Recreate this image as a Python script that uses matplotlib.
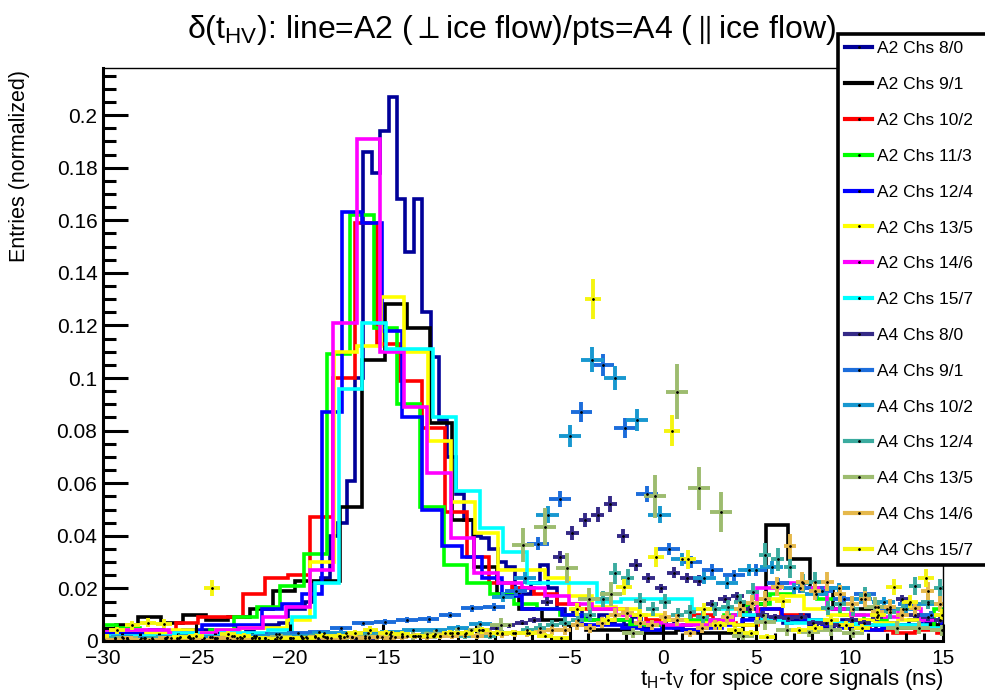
import numpy as np
import matplotlib
matplotlib.use("Agg")
from matplotlib import pyplot as plt
from matplotlib.lines import Line2D
from matplotlib.ticker import MultipleLocator, FuncFormatter

plt.rcParams['font.family'] = ['Liberation Sans', 'DejaVu Sans']
plt.rcParams['mathtext.fontset'] = 'custom'
plt.rcParams['mathtext.rm'] = 'Liberation Sans'
plt.rcParams['mathtext.it'] = 'Liberation Sans:italic'
plt.rcParams['mathtext.fallback'] = 'stixsans'

# ---------------- A2 histograms (lines) ----------------
a2_labels = ["A2 Chs 8/0", "A2 Chs 9/1", "A2 Chs 10/2", "A2 Chs 11/3",
             "A2 Chs 12/4", "A2 Chs 13/5", "A2 Chs 14/6", "A2 Chs 15/7"]
a2_colors = ["#000099", "#000000", "#ff0000", "#00ff00",
             "#0000ff", "#ffff00", "#ff00ff", "#00ffff"]
# first bin low edge and bin width of every histogram (ns)
a2_lo = [-30.0, -30.5, -30.9, -30.5, -30.02, -30.24, -30.26, -29.97]
a2_w = [0.45, 1.2, 1.2, 1.25, 1.07, 1.26, 1.26, 1.26]

a2_ch8 = [0.002, 0.001, 0.002, 0.003, 0.002, 0.002, 0.003, 0.002, 0.003, 0.002,
          0.003, 0.003, 0.004, 0.003, 0.004, 0.004, 0.005, 0.004, 0.005, 0.006,
          0.006, 0.007, 0.012, 0.012, 0.015, 0.022, 0.024, 0.040, 0.045, 0.061,
          0.100, 0.186, 0.178, 0.194, 0.207, 0.168, 0.148, 0.168, 0.125, 0.108,
          0.084, 0.070, 0.056, 0.046, 0.040, 0.039, 0.035, 0.030, 0.028, 0.020,
          0.018, 0.022, 0.029, 0.020, 0.012, 0.010, 0.012, 0.009, 0.008, 0.010,
          0.007, 0.008, 0.006, 0.009, 0.005, 0.007, 0.006, 0.008, 0.005, 0.006,
          0.007, 0.005, 0.006, 0.008, 0.007, 0.010, 0.012, 0.009, 0.010, 0.008,
          0.009, 0.007, 0.008, 0.010, 0.006, 0.007, 0.005, 0.006, 0.008, 0.006,
          0.005, 0.006, 0.004, 0.007, 0.005, 0.006, 0.008, 0.010, 0.007, 0.006]
a2_ch9 = [0.004, 0.006, 0.009, 0.007, 0.010, 0.008, 0.009, 0.012, 0.019, 0.023,
          0.023, 0.051, 0.107, 0.128, 0.119, 0.083, 0.046, 0.028, 0.018, 0.012,
          0.008, 0.006, 0.004, 0.004, 0.003, 0.003, 0.004, 0.003, 0.003, 0.014,
          0.044, 0.031, 0.020, 0.012, 0.012, 0.006, 0.005, 0.006]
a2_ch10 = [0.003, 0.003, 0.003, 0.003, 0.007, 0.009, 0.009, 0.018, 0.024, 0.025,
           0.047, 0.100, 0.159, 0.113, 0.099, 0.081, 0.049, 0.032, 0.022, 0.020,
           0.018, 0.014, 0.012, 0.012, 0.010, 0.008, 0.008, 0.010, 0.007, 0.006,
           0.012, 0.010, 0.008, 0.006, 0.005, 0.004, 0.003, 0.004, 0.003]
a2_ch11 = [0.006, 0.005, 0.004, 0.003, 0.003, 0.004, 0.009, 0.013, 0.021, 0.033,
           0.109, 0.162, 0.119, 0.090, 0.051, 0.029, 0.022, 0.018, 0.014, 0.012,
           0.010, 0.008, 0.008, 0.006, 0.006, 0.008, 0.008, 0.010, 0.014, 0.018,
           0.020, 0.016, 0.010, 0.008, 0.006, 0.005, 0.012, 0.012]
a2_ch12 = [0.003, 0.003, 0.004, 0.003, 0.004, 0.006, 0.006, 0.006, 0.012, 0.014,
           0.018, 0.087, 0.163, 0.159, 0.118, 0.085, 0.050, 0.036, 0.032, 0.024,
           0.017, 0.012, 0.012, 0.010, 0.006, 0.006, 0.005, 0.004, 0.005, 0.004,
           0.005, 0.006, 0.008, 0.012, 0.009, 0.008, 0.006, 0.005, 0.004, 0.005,
           0.006, 0.008, 0.004]
a2_ch13 = [0.004, 0.004, 0.003, 0.004, 0.003, 0.004, 0.005, 0.005, 0.008, 0.030,
           0.110, 0.112, 0.131, 0.110, 0.076, 0.053, 0.041, 0.027, 0.027, 0.024,
           0.017, 0.013, 0.012, 0.010, 0.008, 0.007, 0.007, 0.006, 0.016, 0.017,
           0.012, 0.010, 0.008, 0.007, 0.008, 0.010]
a2_ch14 = [0.004, 0.004, 0.004, 0.003, 0.003, 0.004, 0.005, 0.009, 0.013, 0.027,
           0.121, 0.191, 0.110, 0.089, 0.064, 0.039, 0.026, 0.022, 0.020, 0.017,
           0.014, 0.012, 0.010, 0.007, 0.006, 0.006, 0.008, 0.010, 0.020, 0.022,
           0.020, 0.012, 0.010, 0.009, 0.012, 0.008]
a2_ch15 = [0.002, 0.002, 0.002, 0.003, 0.002, 0.003, 0.003, 0.004, 0.009, 0.022,
           0.096, 0.121, 0.111, 0.111, 0.085, 0.057, 0.043, 0.034, 0.022, 0.022,
           0.022, 0.015, 0.016, 0.016, 0.016, 0.012, 0.012, 0.010, 0.008, 0.007,
           0.008, 0.007, 0.006, 0.006, 0.006, 0.005]
a2_vals = [a2_ch8, a2_ch9, a2_ch10, a2_ch11, a2_ch12, a2_ch13, a2_ch14, a2_ch15]

# ---------------- A4 histograms (points) ----------------
a4_labels = ["A4 Chs 8/0", "A4 Chs 9/1", "A4 Chs 10/2", "A4 Chs 12/4",
             "A4 Chs 13/5", "A4 Chs 14/6", "A4 Chs 15/7"]
a4_colors = ["#352a87", "#1c6ddb", "#1898d0", "#3bab9f",
             "#9dbc6f", "#e5b84b", "#f5f510"]
a4_lo = [-30.36, -29.525, -30.78, -30.375, -30.51, -30.385, -30.545]
a4_w = [0.68, 1.17, 1.2, 0.67, 1.18, 0.67, 0.85]
a4_entries = [5800, 6000, 4700, 1700, 850, 1600, 2200]  # sets the stat. error size

a4_ch8 = [0.0005, 0.001, 0.0005, 0.001, 0.0005, 0.0005, 0.001, 0.0005, 0.001, 0.001,
          0.0005, 0.001, 0.001, 0.0005, 0.001, 0.001, 0.0015, 0.001, 0.001, 0.0015,
          0.001, 0.001, 0.0015, 0.0015, 0.002, 0.002, 0.002, 0.003, 0.003, 0.004,
          0.004, 0.005, 0.006, 0.007, 0.008, 0.015, 0.032, 0.041, 0.046, 0.048,
          0.052, 0.040, 0.029, 0.024, 0.020, 0.026, 0.024, 0.023, 0.014, 0.016,
          0.017, 0.012, 0.010, 0.009, 0.0086, 0.0093, 0.007, 0.0067, 0.006, 0.008,
          0.007, 0.009, 0.012, 0.016, 0.010, 0.009, 0.008]
a4_ch9 = [0.001, 0.001, 0.0012, 0.0014, 0.0016, 0.0018, 0.002, 0.0025, 0.003, 0.0035,
          0.0048, 0.0067, 0.0073, 0.008, 0.0082, 0.0099, 0.0124, 0.013, 0.019, 0.037,
          0.054, 0.087, 0.105, 0.081, 0.056, 0.035, 0.030, 0.027, 0.025, 0.027,
          0.022, 0.020, 0.019, 0.016, 0.018, 0.012, 0.014, 0.010]
a4_ch10 = [0.001, 0.0015, 0.001, 0.0015, 0.002, 0.0015, 0.002, 0.002, 0.0025, 0.002,
           0.003, 0.003, 0.003, 0.0035, 0.004, 0.004, 0.005, 0.0065, 0.0166, 0.024,
           0.048, 0.078, 0.107, 0.100, 0.084, 0.048, 0.031, 0.024, 0.022, 0.027,
           0.028, 0.020, 0.018, 0.020, 0.016, 0.015, 0.012, 0.014]
a4_ch12 = [0.0005, 0.001, 0.0005, 0.0005, 0.001, 0.0005, 0.001, 0.001, 0.0005, 0.001,
           0.001, 0.0015, 0.001, 0.001, 0.0015, 0.001, 0.0015, 0.002, 0.0015, 0.002,
           0.0015, 0.002, 0.002, 0.0025, 0.002, 0.002, 0.0025, 0.002, 0.003, 0.002,
           0.002, 0.002, 0.003, 0.003, 0.004, 0.005, 0.006, 0.007, 0.008, 0.010,
           0.016, 0.0257, 0.0238, 0.0153, 0.012, 0.015, 0.010, 0.011, 0.009, 0.012,
           0.013, 0.015, 0.0188, 0.0327, 0.031, 0.028, 0.022, 0.0226, 0.0124, 0.014,
           0.012, 0.0175, 0.013, 0.011, 0.012, 0.021, 0.015, 0.020]
a4_ch13 = [0.0005, 0.001, 0.0005, 0.001, 0.001, 0.0005, 0.001, 0.001, 0.0015, 0.001,
           0.0015, 0.002, 0.0015, 0.002, 0.002, 0.0025, 0.003, 0.004, 0.006, 0.0365,
           0.0435, 0.0276, 0.016, 0.018, 0.003, 0.055, 0.0948, 0.058, 0.049, 0.002,
           0.0073, 0.004, 0.0036, 0.004, 0.003, 0.013, 0.005, 0.005, 0.004]
a4_ch14 = [0.0005, 0.0005, 0.001, 0.0005, 0.0005, 0.001, 0.0005, 0.001, 0.0005, 0.001,
           0.001, 0.0005, 0.001, 0.001, 0.0005, 0.001, 0.001, 0.0015, 0.001, 0.001,
           0.0015, 0.001, 0.0015, 0.001, 0.0015, 0.002, 0.0015, 0.002, 0.002, 0.0025,
           0.002, 0.003, 0.0025, 0.003, 0.003, 0.0035, 0.004, 0.004, 0.006, 0.0048,
           0.007, 0.0099, 0.0105, 0.007, 0.006, 0.0092, 0.008, 0.003, 0.005, 0.006,
           0.009, 0.012, 0.0145, 0.016, 0.0207, 0.036, 0.0226, 0.019, 0.0226, 0.018,
           0.014, 0.016, 0.011, 0.013, 0.010, 0.0124, 0.019, 0.014]
a4_ch15 = [0.002, 0.004, 0.006, 0.007, 0.0065, 0.0014, 0.002, 0.020, 0.0026, 0.002,
           0.001, 0.0008, 0.001, 0.001, 0.002, 0.002, 0.003, 0.0042, 0.003, 0.0027,
           0.002, 0.002, 0.003, 0.003, 0.004, 0.003, 0.003, 0.003, 0.002, 0.0013,
           0.012, 0.130, 0.008, 0.0206, 0.010, 0.032, 0.080, 0.031, 0.012, 0.006,
           0.004, 0.003, 0.0017, 0.0153, 0.004, 0.005, 0.008, 0.006, 0.005, 0.010,
           0.0204, 0.015, 0.024, 0.010]
a4_vals = [a4_ch8, a4_ch9, a4_ch10, a4_ch12, a4_ch13, a4_ch14, a4_ch15]

y_ticks = [0, 0.02, 0.04, 0.06, 0.08, 0.1, 0.12, 0.14, 0.16, 0.18, 0.2]
x_ticks = [-30, -25, -20, -15, -10, -5, 0, 5, 10, 15]

fig = plt.figure(figsize=(9.85, 6.91), dpi=100)
ax = fig.add_axes([103/985, 1-641/691, (943-103)/985, (641-68)/691])

# lines: A2
for vals, lo, w, c in zip(a2_vals, a2_lo, a2_w, a2_colors):
	edges = lo + w*np.arange(len(vals)+1)
	ax.stairs(vals, edges, color=c, linewidth=2.6, baseline=None)

# points: A4
for vals, lo, w, c, n in zip(a4_vals, a4_lo, a4_w, a4_colors, a4_entries):
	v = np.array(vals)
	centers = lo + w*(np.arange(len(v))+0.5)
	ax.errorbar(centers, v, xerr=w/2, yerr=np.sqrt(v/n), fmt='.', color=c,
		ecolor=c, elinewidth=2.8, capsize=0, ms=2, mfc='black', mec='black')

ax.set_xlim(-30, 15)
ax.set_ylim(0, 0.2179)
ax.set_xticks(x_ticks)
ax.set_yticks(y_ticks)
ax.xaxis.set_minor_locator(MultipleLocator(1))
ax.yaxis.set_minor_locator(MultipleLocator(0.005))
ax.yaxis.set_major_formatter(FuncFormatter(lambda v, p: "%g" % v))
ax.xaxis.set_major_formatter(FuncFormatter(lambda v, p: ("%g" % v).replace("-", "\u2212")))
ax.tick_params(axis='both', which='both', direction='in', top=False, right=False,
	labelsize=15, width=2.2)
ax.tick_params(axis='y', which='major', length=18, pad=4)
ax.tick_params(axis='y', which='minor', length=9)
ax.tick_params(axis='x', which='major', length=12, pad=6)
ax.tick_params(axis='x', which='minor', length=6)
ax.spines['left'].set_linewidth(2.2)
ax.spines['bottom'].set_linewidth(2.2)
ax.spines['top'].set_linewidth(1.0)
ax.spines['right'].set_linewidth(1.0)

fig.text(512/985, 1-30/691,
	"\u03b4(t$_{\\mathrm{HV}}$): line=A2 ($\\perp$ice flow)/pts=A4 ($\\parallel$ice flow)",
	ha='center', va='center', fontsize=23)
fig.text(943/985, 1-685/691,
	r"t$_{\mathrm{H}}$-t$_{\mathrm{V}}$ for spice core signals (ns)",
	ha='right', va='baseline', fontsize=16)
fig.text(20/985, 1-70/691, "Entries (normalized)", rotation=90,
	ha='center', va='top', fontsize=15.5)

# legend (box runs past the right edge like the original)
handles = []
for c in a2_colors + a4_colors:
	handles.append(Line2D([], [], color=c, linewidth=3, marker='.', ms=2,
		mfc='black', mec='black'))
leg = fig.legend(handles, a2_labels + a4_labels, loc='upper left',
	bbox_to_anchor=(838/985, 1-34/691, 0.18, 0), mode='expand', borderaxespad=0,
	fontsize=12.5, frameon=True, fancybox=False, edgecolor='black', framealpha=1,
	handlelength=1.55, handletextpad=0.3, labelspacing=1.19, borderpad=0.42)
leg.get_frame().set_linewidth(2.6)

fig.savefig("out.png", dpi=100)
